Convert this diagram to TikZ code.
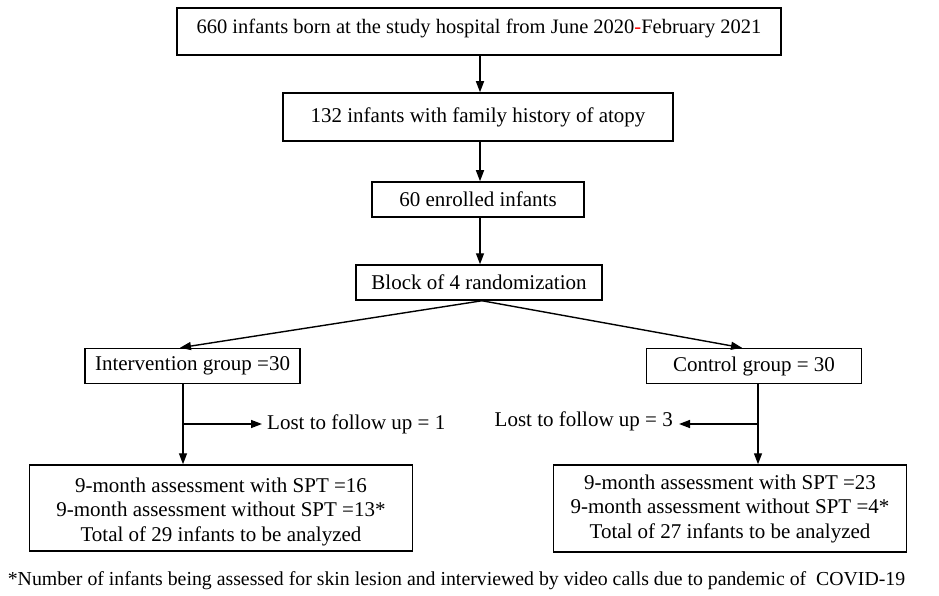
\documentclass[tikz,border=0pt]{standalone}
\usepackage{fontspec}
\setmainfont{Liberation Serif}
\usetikzlibrary{arrows.meta}
\begin{document}
\begin{tikzpicture}[x=1pt,y=-1pt,
  box/.style={draw,line width=1.5pt,inner sep=0pt,align=center},
  inner/.style={font=\fontsize{21}{24.5}\selectfont},
  conn/.style={line width=1.4pt,-{Triangle[length=11pt,width=8pt]}},
  plain/.style={line width=1.4pt}]
\useasboundingbox (0,0) rectangle (939,596);
\node[box,minimum width=604pt,minimum height=47pt] (b1) at (479,31.5) {};
\node[font=\fontsize{20.5}{24}\selectfont,inner sep=0pt] (b1t) at (479,28.5) {660 infants born at the study hospital from June 2020{\color{red}-}February 2021};
\node[box,inner,minimum width=390pt,minimum height=48pt] (b2) at (478,117) {132 infants with family history of atopy};
\node[box,inner,minimum width=212pt,minimum height=35pt] (b3) at (478,199.5) {60 enrolled infants};
\node[box,inner,minimum width=246pt,minimum height=35pt] (b4) at (479,282.5) {Block of 4 randomization};
\node[box,inner,minimum width=215pt,minimum height=35pt] (int) at (192.5,366) {Intervention group =30};
\node[box,inner,minimum width=215pt,minimum height=35pt] (ctl) at (754,366) {Control group = 30};
\node[box,minimum width=383pt,minimum height=86pt] (lb) at (221,508) {};
\node[inner,align=center,inner sep=0pt] (lbt) at (221,511.5) {9-month assessment with SPT =16\\9-month assessment without SPT =13*\\Total of 29 infants to be analyzed};
\node[box,inner,minimum width=353pt,minimum height=87pt] (rb) at (730,508.5) {9-month assessment with SPT =23\\9-month assessment without SPT =4*\\Total of 27 infants to be analyzed};
\node[inner,anchor=west,inner xsep=5pt,inner ysep=0pt] (l1) at (262,424) {Lost to follow up = 1};
\node[inner,anchor=east,inner xsep=6pt,inner ysep=0pt] (l3) at (679,421.5) {Lost to follow up = 3};
\node[font=\fontsize{19.8}{22}\selectfont,inner sep=0pt] (fn) at (456.5,580.5) {*Number of infants being assessed for skin lesion and interviewed by video calls due to pandemic of\ \ COVID-19};
\draw[conn] ([xshift=1pt]b1.south) -- ([xshift=2pt]b2.north);
\draw[conn] ([xshift=2pt]b2.south) -- ([xshift=2pt]b3.north);
\draw[conn] ([xshift=2pt]b3.south) -- ([xshift=1pt]b4.north);
\draw[conn] ([xshift=3pt]b4.south) -- ([xshift=-12.5pt]int.north);
\draw[conn] ([xshift=3pt]b4.south) -- ([xshift=-12pt]ctl.north);
\coordinate (jl) at ([xshift=-9.5pt]int.south |- 0,424);
\coordinate (jr) at ([xshift=4pt]ctl.south |- 0,424);
\draw[conn] ([xshift=-9.5pt]int.south) -- ([xshift=-9.5pt]int.south |- lb.north);
\draw[conn] ([xshift=4pt]ctl.south) -- ([xshift=4pt]ctl.south |- rb.north);
\draw[conn] (jl) -- (l1.west);
\draw[conn] (jr) -- (jr -| l3.east);
\end{tikzpicture}
\end{document}
